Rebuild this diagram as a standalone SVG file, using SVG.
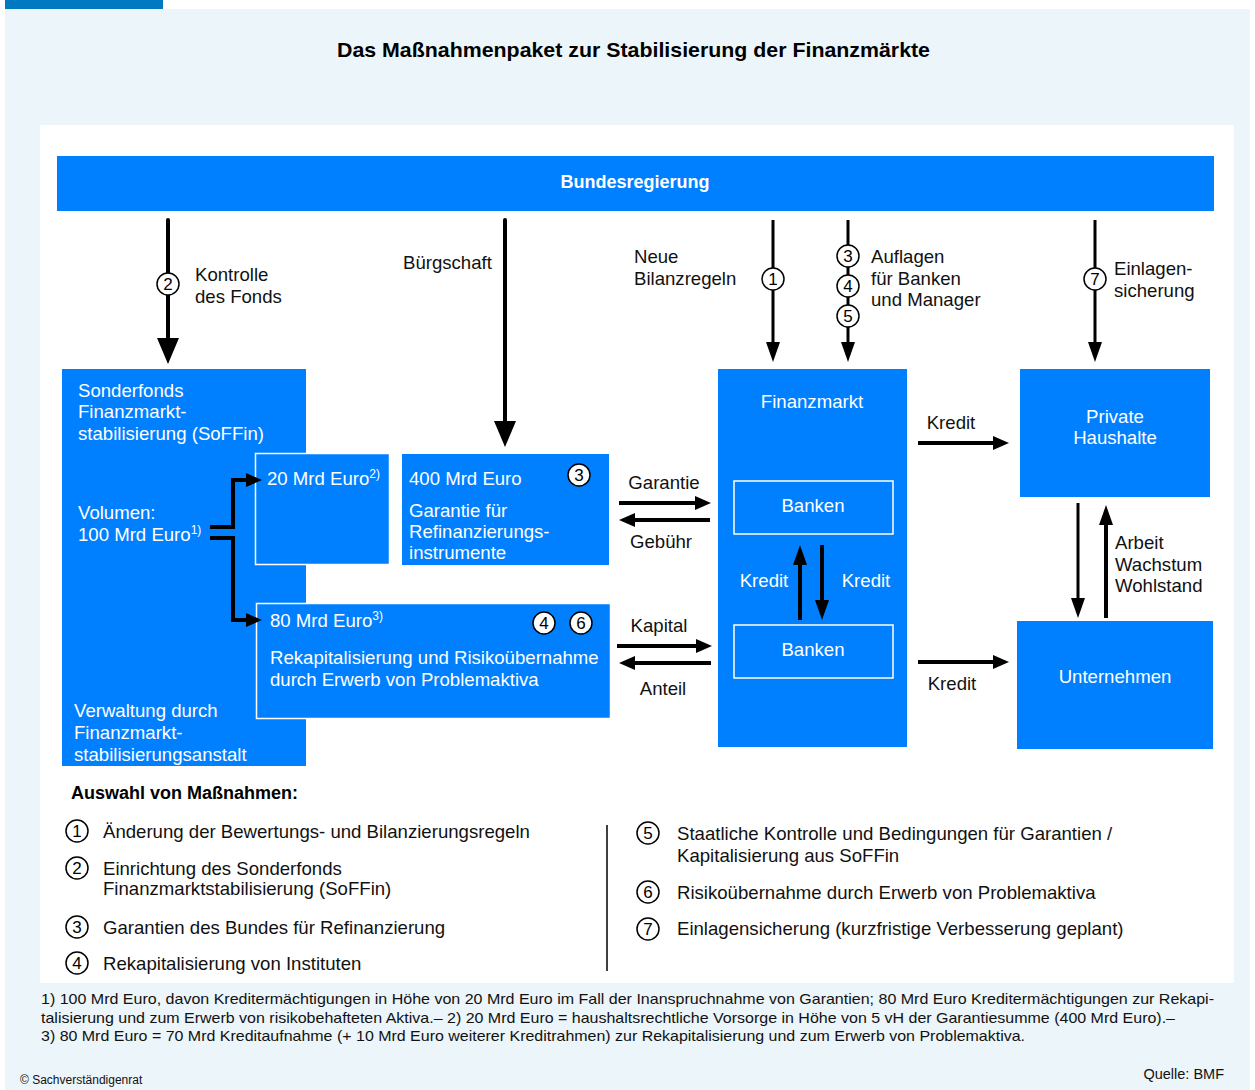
<svg xmlns="http://www.w3.org/2000/svg" width="1255" height="1090" viewBox="0 0 1255 1090">
<defs>
<style>
text{font-family:"Liberation Sans",Arial,sans-serif;}
.box{fill:#0080ff;}
.boxw{fill:#0080ff;stroke:#ffffff;stroke-width:1.5;}
.inner{fill:none;stroke:#ffffff;stroke-width:1.5;}
.wt{fill:#ffffff;font-size:18.6px;}
.bk{fill:#111111;font-size:18.6px;}
.ln{fill:none;stroke:#000;stroke-width:4;}
.ln3{fill:none;stroke:#000;stroke-width:3;}
.circ{fill:#ffffff;stroke:#000;stroke-width:1.5;}
.cn{fill:#000;font-size:17px;text-anchor:middle;}
.fn{fill:#111;font-size:14.5px;}
</style>
<marker id="big" viewBox="0 0 26 22" refX="13" refY="11" markerWidth="26" markerHeight="22" markerUnits="userSpaceOnUse" orient="auto"><path d="M0,0 L26,11 L0,22 z" fill="#000"/></marker>
<marker id="med" viewBox="0 0 20 14" refX="10" refY="7" markerWidth="20" markerHeight="14" markerUnits="userSpaceOnUse" orient="auto"><path d="M0,0 L20,7 L0,14 z" fill="#000"/></marker>
<marker id="sm" viewBox="0 0 16 14" refX="8" refY="7" markerWidth="16" markerHeight="14" markerUnits="userSpaceOnUse" orient="auto"><path d="M0,0 L16,7 L0,14 z" fill="#000"/></marker>
</defs>
<rect x="0" y="0" width="1255" height="1090" fill="#ffffff"/>
<rect x="5" y="9" width="1245" height="1081" fill="#ecf5f9"/>
<rect x="5" y="0" width="158" height="9" fill="#0079c1"/>
<rect x="40" y="125" width="1194" height="858" fill="#ffffff"/>
<text x="337" y="57" textLength="593" lengthAdjust="spacingAndGlyphs" style="font-size:20.5px;font-weight:bold;fill:#000">Das Maßnahmenpaket zur Stabilisierung der Finanzmärkte</text>

<g id="bundesregierung">
<rect class="box" x="57" y="156" width="1157" height="55"/>
<text class="wt" x="635" y="188" text-anchor="middle" style="font-weight:bold;font-size:18px">Bundesregierung</text>
</g>

<g id="soffin">
<rect class="box" x="62" y="369" width="244" height="397"/>
<text class="wt" x="78" y="397">Sonderfonds</text>
<text class="wt" x="78" y="418">Finanzmarkt-</text>
<text class="wt" x="78" y="440">stabilisierung (SoFFin)</text>
<text class="wt" x="78" y="519">Volumen:</text>
<text class="wt" x="78" y="541">100 Mrd Euro<tspan dy="-7" style="font-size:12px">1)</tspan></text>
<text class="wt" x="74" y="717">Verwaltung durch</text>
<text class="wt" x="74" y="739">Finanzmarkt-</text>
<text class="wt" x="74" y="761">stabilisierungsanstalt</text>
</g>

<g id="box20">
<rect class="boxw" x="255.5" y="453.5" width="134" height="111"/>
<text class="wt" x="267" y="485">20 Mrd Euro<tspan dy="-7" style="font-size:12px">2)</tspan></text>
</g>

<g id="box400">
<rect class="box" x="402" y="454" width="207" height="111"/>
<text class="wt" x="409" y="485">400 Mrd Euro</text>
<text class="wt" x="409" y="517">Garantie für</text>
<text class="wt" x="409" y="538">Refinanzierungs-</text>
<text class="wt" x="409" y="559">instrumente</text>
<circle class="circ" cx="579" cy="475" r="11"/>
<text class="cn" x="579" y="481">3</text>
</g>

<g id="box80">
<rect class="boxw" x="256.5" y="603.5" width="354" height="115"/>
<text class="wt" x="270" y="627">80 Mrd Euro<tspan dy="-7" style="font-size:12px">3)</tspan></text>
<text class="wt" x="270" y="664">Rekapitalisierung und Risikoübernahme</text>
<text class="wt" x="270" y="686">durch Erwerb von Problemaktiva</text>
<circle class="circ" cx="544" cy="623" r="11"/>
<text class="cn" x="544" y="629">4</text>
<circle class="circ" cx="581" cy="623" r="11"/>
<text class="cn" x="581" y="629">6</text>
</g>

<g id="finanzmarkt">
<rect class="box" x="718" y="369" width="189" height="378"/>
<text class="wt" x="812" y="408" text-anchor="middle">Finanzmarkt</text>
</g>
<g id="banken1">
<rect class="inner" x="734" y="481" width="159" height="53"/>
<text class="wt" x="813" y="512" text-anchor="middle">Banken</text>
</g>
<g id="banken2">
<rect class="inner" x="734" y="625" width="159" height="53"/>
<text class="wt" x="813" y="656" text-anchor="middle">Banken</text>
</g>

<g id="haushalte">
<rect class="box" x="1020" y="369" width="190" height="128"/>
<text class="wt" x="1115" y="423" text-anchor="middle">Private</text>
<text class="wt" x="1115" y="444" text-anchor="middle">Haushalte</text>
</g>

<g id="unternehmen">
<rect class="box" x="1017" y="621" width="196" height="128"/>
<text class="wt" x="1115" y="683" text-anchor="middle">Unternehmen</text>
</g>

<g id="connectors">
<line class="ln" x1="168" y1="220" x2="168" y2="351" stroke-linecap="round" marker-end="url(#big)"/>
<line class="ln" x1="505" y1="220" x2="505" y2="434" stroke-linecap="round" marker-end="url(#big)"/>
<line class="ln3" x1="773" y1="220" x2="773" y2="352" marker-end="url(#med)"/>
<line class="ln3" x1="848" y1="220" x2="848" y2="352" marker-end="url(#med)"/>
<line class="ln3" x1="1095" y1="220" x2="1095" y2="352" marker-end="url(#med)"/>
<line class="ln" x1="619" y1="503" x2="703" y2="503" marker-end="url(#sm)"/>
<line class="ln" x1="710" y1="520" x2="627" y2="520" marker-end="url(#sm)"/>
<line class="ln" x1="617" y1="646" x2="704" y2="646" marker-end="url(#sm)"/>
<line class="ln" x1="711" y1="663" x2="627" y2="663" marker-end="url(#sm)"/>
<line class="ln" x1="918" y1="443" x2="1001" y2="443" marker-end="url(#sm)"/>
<line class="ln" x1="918" y1="662" x2="1001" y2="662" marker-end="url(#sm)"/>
<line class="ln" x1="800" y1="620" x2="800" y2="555" marker-end="url(#med)"/>
<line class="ln" x1="822" y1="545" x2="822" y2="610" marker-end="url(#med)"/>
<line class="ln3" x1="1078" y1="503" x2="1078" y2="608" marker-end="url(#med)"/>
<line class="ln" x1="1106" y1="618" x2="1106" y2="515" marker-end="url(#med)"/>
<path class="ln" d="M210,527 H233 V480 H254" marker-end="url(#sm)"/>
<path class="ln" d="M210,538 H233 V620 H254" marker-end="url(#sm)"/>
<circle class="circ" cx="168" cy="284" r="11"/>
<text class="cn" x="168" y="290">2</text>
<circle class="circ" cx="773" cy="279" r="11"/>
<text class="cn" x="773" y="285">1</text>
<circle class="circ" cx="848" cy="256" r="11"/>
<text class="cn" x="848" y="262">3</text>
<circle class="circ" cx="848" cy="286" r="11"/>
<text class="cn" x="848" y="292">4</text>
<circle class="circ" cx="848" cy="316" r="11"/>
<text class="cn" x="848" y="322">5</text>
<circle class="circ" cx="1095" cy="279" r="11"/>
<text class="cn" x="1095" y="285">7</text>
<text class="bk" x="195" y="281">Kontrolle</text>
<text class="bk" x="195" y="303">des Fonds</text>
<text class="bk" x="403" y="269">Bürgschaft</text>
<text class="bk" x="634" y="263">Neue</text>
<text class="bk" x="634" y="285">Bilanzregeln</text>
<text class="bk" x="871" y="263">Auflagen</text>
<text class="bk" x="871" y="285">für Banken</text>
<text class="bk" x="871" y="306">und Manager</text>
<text class="bk" x="1114" y="275">Einlagen-</text>
<text class="bk" x="1114" y="297">sicherung</text>
<text class="bk" x="664" y="489" text-anchor="middle">Garantie</text>
<text class="bk" x="661" y="548" text-anchor="middle">Gebühr</text>
<text class="bk" x="659" y="632" text-anchor="middle">Kapital</text>
<text class="bk" x="663" y="695" text-anchor="middle">Anteil</text>
<text class="bk" x="951" y="429" text-anchor="middle">Kredit</text>
<text class="bk" x="952" y="690" text-anchor="middle">Kredit</text>
<text class="wt" x="764" y="587" text-anchor="middle">Kredit</text>
<text class="wt" x="866" y="587" text-anchor="middle">Kredit</text>
<text class="bk" x="1115" y="549">Arbeit</text>
<text class="bk" x="1115" y="571">Wachstum</text>
<text class="bk" x="1115" y="592">Wohlstand</text>
</g>

<g id="legend">
<text x="71" y="799" style="font-size:18px;font-weight:bold;fill:#000">Auswahl von Maßnahmen:</text>
<circle class="circ" cx="77" cy="831" r="11"/><text class="cn" x="77" y="837">1</text>
<text class="bk" x="103" y="838">Änderung der Bewertungs- und Bilanzierungsregeln</text>
<circle class="circ" cx="77" cy="868" r="11"/><text class="cn" x="77" y="874">2</text>
<text class="bk" x="103" y="875">Einrichtung des Sonderfonds</text>
<text class="bk" x="103" y="895">Finanzmarktstabilisierung (SoFFin)</text>
<circle class="circ" cx="77" cy="927" r="11"/><text class="cn" x="77" y="933">3</text>
<text class="bk" x="103" y="934">Garantien des Bundes für Refinanzierung</text>
<circle class="circ" cx="77" cy="963" r="11"/><text class="cn" x="77" y="969">4</text>
<text class="bk" x="103" y="970">Rekapitalisierung von Instituten</text>
<line x1="607" y1="825" x2="607" y2="971" stroke="#000" stroke-width="1.5"/>
<circle class="circ" cx="648" cy="833" r="11"/><text class="cn" x="648" y="839">5</text>
<text class="bk" x="677" y="840">Staatliche Kontrolle und Bedingungen für Garantien /</text>
<text class="bk" x="677" y="862">Kapitalisierung aus SoFFin</text>
<circle class="circ" cx="648" cy="892" r="11"/><text class="cn" x="648" y="898">6</text>
<text class="bk" x="677" y="899">Risikoübernahme durch Erwerb von Problemaktiva</text>
<circle class="circ" cx="648" cy="929" r="11"/><text class="cn" x="648" y="935">7</text>
<text class="bk" x="677" y="935">Einlagensicherung (kurzfristige Verbesserung geplant)</text>
</g>

<g id="footnotes">
<text class="fn" x="41" y="1004" textLength="1173" lengthAdjust="spacingAndGlyphs">1) 100 Mrd Euro, davon Kreditermächtigungen in Höhe von 20 Mrd Euro im Fall der Inanspruchnahme von Garantien; 80 Mrd Euro Kreditermächtigungen zur Rekapi-</text>
<text class="fn" x="41" y="1023" textLength="1134" lengthAdjust="spacingAndGlyphs">talisierung und zum Erwerb von risikobehafteten Aktiva.– 2) 20 Mrd Euro = haushaltsrechtliche Vorsorge in Höhe von 5 vH der Garantiesumme (400 Mrd Euro).–</text>
<text class="fn" x="41" y="1041" textLength="984" lengthAdjust="spacingAndGlyphs">3) 80 Mrd Euro = 70 Mrd Kreditaufnahme (+ 10 Mrd Euro weiterer Kreditrahmen) zur Rekapitalisierung und zum Erwerb von Problemaktiva.</text>
<text x="20" y="1084" style="font-size:12px;fill:#111">© Sachverständigenrat</text>
<text x="1224" y="1079" text-anchor="end" style="font-size:14.5px;fill:#111">Quelle: BMF</text>
</g>
</svg>
